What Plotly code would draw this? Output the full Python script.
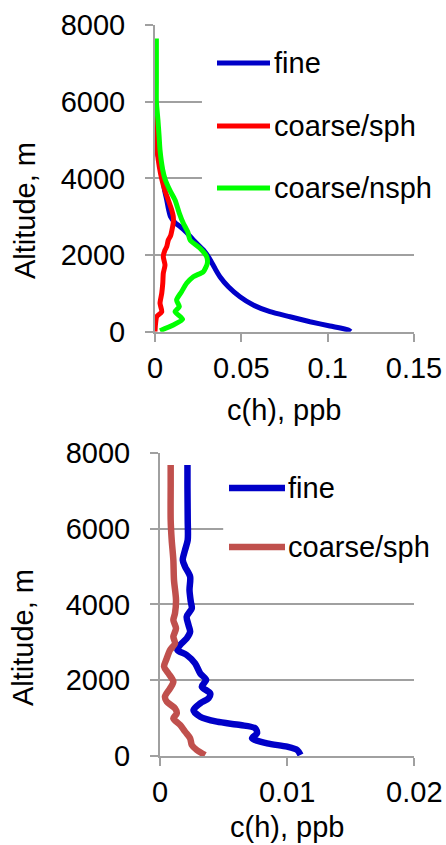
import plotly.graph_objects as go

# ---------------- data ----------------
top_fine_h = [5600, 5200, 4800, 4500, 4217, 4000, 3700, 3435, 3200, 3000, 2850, 2739, 2600,
              2392, 2131, 1914, 1653, 1435, 1174, 913, 696, 522, 391, 261, 149, 44, 0]
top_fine_c = [0.0, 0.0005, 0.0012, 0.0022, 0.0036, 0.0045, 0.0055, 0.0068, 0.0078, 0.0090, 0.0115,
              0.0145, 0.0180, 0.0222, 0.0280, 0.0315, 0.0347, 0.0376, 0.0425, 0.0492, 0.0569,
              0.0666, 0.0782, 0.0898, 0.1013, 0.1120, 0.1133]

top_csph_h = [5870, 5500, 5100, 4739, 4300, 3983, 3700, 3435, 3200, 3000, 2850, 2739, 2500, 2392,
              2217, 2131, 1957, 1740, 1523, 1262, 1001, 740, 522, 391, 200, 0]
top_csph_c = [0.0, 0.0004, 0.0008, 0.0012, 0.0025, 0.0039, 0.0056, 0.0077, 0.0095, 0.0106, 0.0106,
              0.0102, 0.0090, 0.0077, 0.0068, 0.0058, 0.0048, 0.0058, 0.0048, 0.0045, 0.0039,
              0.0029, 0.0039, 0.0010, 0.0003, 0.0]

top_cnsph_h = [7650, 7000, 6500, 6000, 5522, 5087, 4739, 4217, 3983, 3700, 3435, 3100, 2827, 2600,
               2392, 2175, 1957, 1783, 1565, 1435, 1262, 1044, 827, 652, 522, 323, 175, 26]
top_cnsph_c = [0.0008, 0.0008, 0.0008, 0.0008, 0.0017, 0.0024, 0.0029, 0.0045, 0.0058, 0.0085,
               0.0116, 0.0140, 0.0164, 0.0190, 0.0203, 0.0261, 0.0299, 0.0303, 0.0280, 0.0222,
               0.0183, 0.0154, 0.0125, 0.0141, 0.0116, 0.0160, 0.0106, 0.0029]

bot_fine_h = [7675, 7103, 6224, 5697, 5433, 5169, 4993, 4730, 4378, 4070, 3894, 3675, 3455, 3279,
              3103, 2927, 2796, 2664, 2444, 2180, 2004, 1829, 1653, 1521, 1389, 1213, 1037, 905,
              818, 730, 598, 466, 334, 246, 158, 26]
bot_fine_c = [0.00216, 0.00216, 0.00218, 0.00218, 0.00197, 0.00179, 0.00197, 0.00237, 0.00232,
              0.00242, 0.0025, 0.0021, 0.00224, 0.00237, 0.0021, 0.00158, 0.00137, 0.0021,
              0.00276, 0.00316, 0.00363, 0.00329, 0.00395, 0.00382, 0.00316, 0.00263, 0.00316,
              0.00447, 0.00632, 0.0075, 0.00763, 0.00724, 0.00842, 0.0100, 0.01079, 0.01105]

bot_csph_h = [7675, 7103, 6224, 5697, 5169, 4642, 4114, 3763, 3587, 3367, 3147, 2971, 2796, 2576,
              2356, 2180, 1960, 1785, 1565, 1433, 1257, 1125, 993, 818, 642, 466, 290, 158, 26]
bot_csph_c = [0.00084, 0.00084, 0.00084, 0.00092, 0.00105, 0.0011, 0.00126, 0.00118, 0.00105,
              0.00126, 0.00105, 0.00118, 0.00079, 0.00053, 0.00032, 0.00066, 0.00105, 0.00079,
              0.00039, 0.00053, 0.00118, 0.00132, 0.00105, 0.00158, 0.00197, 0.00237, 0.0025,
              0.00289, 0.00355]

series_names_top = ["fine", "coarse/sph", "coarse/nsph"]
series_names_bot = ["fine", "coarse/sph"]
colors_top = ["#0000C8", "#FF0000", "#00FF00"]
colors_bot = ["#0000C8", "#C0504D"]
y_ticks = [0, 2000, 4000, 6000, 8000]
top_x_ticks = [0, 0.05, 0.1, 0.15]
top_x_labels = ["0", "0.05", "0.1", "0.15"]
bot_x_ticks = [0, 0.01, 0.02]
bot_x_labels = ["0", "0.01", "0.02"]

W, H = 446, 845
FONT = "Liberation Sans, Arial, sans-serif"
FS = 29
GRID = "#A0A0A0"


def px(x):
    return x / W


def py(y):
    return 1 - y / H


fig = go.Figure()

top_data = [(top_fine_c, top_fine_h), (top_csph_c, top_csph_h), (top_cnsph_c, top_cnsph_h)]
for (c, h), name, col in zip(top_data, series_names_top, colors_top):
    fig.add_trace(go.Scatter(x=c, y=h, mode="lines", name=name, xaxis="x", yaxis="y",
                             line=dict(color=col, width=5, shape="spline", smoothing=0.6),
                             showlegend=False))

bot_data = [(bot_fine_c, bot_fine_h), (bot_csph_c, bot_csph_h)]
for (c, h), name, col in zip(bot_data, series_names_bot, colors_bot):
    fig.add_trace(go.Scatter(x=c, y=h, mode="lines", name=name, xaxis="x2", yaxis="y2",
                             line=dict(color=col, width=6.5, shape="spline", smoothing=0.8),
                             showlegend=False))

axis_common = dict(showline=True, linecolor=GRID, linewidth=2, ticks="outside", ticklen=8,
                   tickwidth=2, tickcolor=GRID, zeroline=False, automargin=False,
                   tickfont=dict(family=FONT, size=FS, color="#000000"))

fig.update_layout(
    width=W, height=H, autosize=False, margin=dict(l=0, r=0, t=0, b=0, pad=0),
    showlegend=False,
    paper_bgcolor="white", plot_bgcolor="white",
    font=dict(family=FONT, size=FS, color="#000000"),
    xaxis=dict(domain=[px(155), px(414)], range=[0, 0.15], anchor="y", showgrid=False,
               tickvals=top_x_ticks, ticktext=top_x_labels, ticklabelstandoff=1, **axis_common),
    yaxis=dict(domain=[py(331.7), py(25)], range=[0, 8000], anchor="x", showgrid=True,
               gridcolor=GRID, gridwidth=2, tickvals=y_ticks, ticklabelstandoff=14,
               **axis_common),
    xaxis2=dict(domain=[px(160), px(414.3)], range=[0, 0.02], anchor="y2", showgrid=False,
                tickvals=bot_x_ticks, ticktext=bot_x_labels, ticklabelstandoff=1, **axis_common),
    yaxis2=dict(domain=[py(756), py(452.7)], range=[0, 8000], anchor="x2", showgrid=True,
                gridcolor=GRID, gridwidth=2, tickvals=y_ticks, ticklabelstandoff=14,
                **axis_common),
)

# legend backgrounds (cover gridlines, drawn between grid and traces)
fig.add_shape(type="rect", xref="x", yref="y", x0=0.0272, x1=0.16, y0=2392, y1=7869,
              fillcolor="white", line=dict(width=0), layer="between")
fig.add_shape(type="rect", xref="x2", yref="y2", x0=0.00497, x1=0.021, y0=4644, y1=7810,
              fillcolor="white", line=dict(width=0), layer="between")

# manual legends
top_leg_y = [63, 126, 188]
for name, col, yy in zip(series_names_top, colors_top, top_leg_y):
    fig.add_shape(type="line", xref="paper", yref="paper", x0=px(217), x1=px(270),
                  y0=py(yy), y1=py(yy), line=dict(color=col, width=5), layer="above")
    fig.add_annotation(xref="paper", yref="paper", x=px(272), y=py(yy), text=name,
                       showarrow=False, xanchor="left", yanchor="middle",
                       font=dict(family=FONT, size=FS, color="#000000"))

bot_leg_y = [488, 547]
for name, col, yy in zip(series_names_bot, colors_bot, bot_leg_y):
    fig.add_shape(type="line", xref="paper", yref="paper", x0=px(229), x1=px(285),
                  y0=py(yy), y1=py(yy), line=dict(color=col, width=6.5), layer="above")
    fig.add_annotation(xref="paper", yref="paper", x=px(286), y=py(yy), text=name,
                       showarrow=False, xanchor="left", yanchor="middle",
                       font=dict(family=FONT, size=FS, color="#000000"))

# axis titles
for (x, y, txt, ang) in [(25, 211, "Altitude, m", -90), (284, 410, "c(h), ppb", 0),
                         (23, 638, "Altitude, m", -90), (287, 827, "c(h), ppb", 0)]:
    fig.add_annotation(xref="paper", yref="paper", x=px(x), y=py(y), text=txt, textangle=ang,
                       showarrow=False, xanchor="center", yanchor="middle",
                       font=dict(family=FONT, size=FS, color="#000000"))

fig.write_html("out.html", config={"responsive": False, "displayModeBar": False},
               post_script="document.body.style.margin='0';")
